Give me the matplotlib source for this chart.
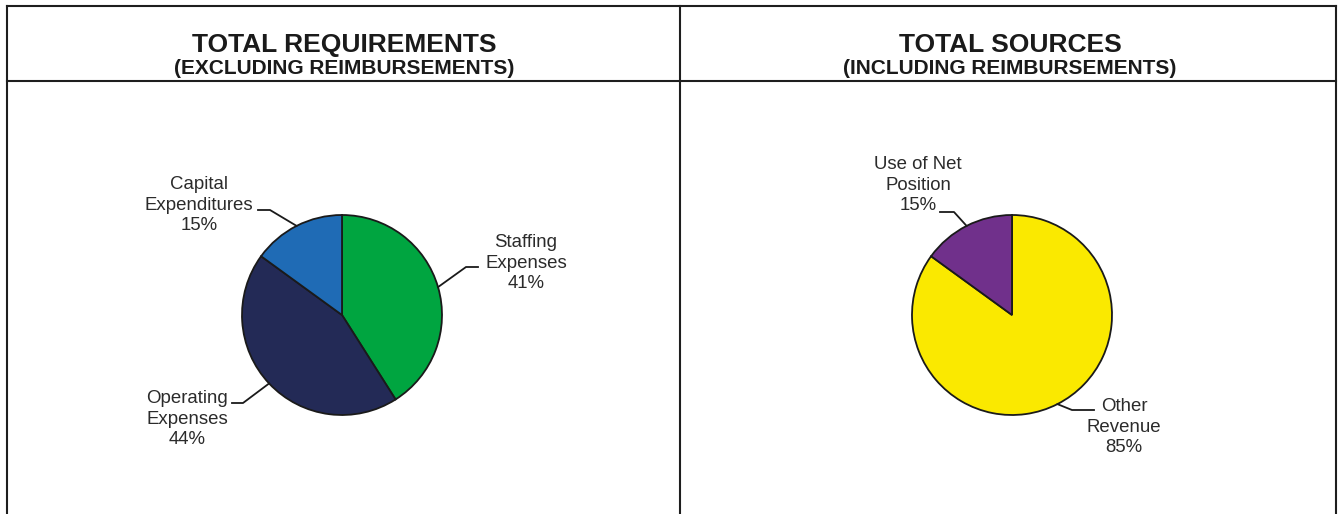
import numpy as np
import matplotlib
matplotlib.use("Agg")
import matplotlib.pyplot as plt
from matplotlib.lines import Line2D

plt.rcParams['font.family'] = ['Liberation Sans', 'DejaVu Sans']

# ---- data ----
req_labels = ["Staffing\nExpenses", "Operating\nExpenses", "Capital\nExpenditures"]
req_values = [41, 44, 15]
req_colors = ["#00A540", "#232A56", "#1F6BB5"]

src_labels = ["Other\nRevenue", "Use of Net\nPosition"]
src_values = [85, 15]
src_colors = ["#FAE900", "#70308B"]

titles = ["TOTAL REQUIREMENTS", "TOTAL SOURCES"]
subtitles = ["(EXCLUDING REIMBURSEMENTS)", "(INCLUDING REIMBURSEMENTS)"]

W, H = 1340, 514
fig = plt.figure(figsize=(W / 100, H / 100), dpi=100)

def fx(x):
    return x / W

def fy(y):
    return 1 - y / H

# ---- frame lines ----
frame_col = "#1e1e1e"
lw = 1.5
for (x0, y0, x1, y1) in [(7, 6, 1336, 6), (7, 81, 1336, 81), (7, 6, 7, 514),
                         (680, 6, 680, 514), (1336, 6, 1336, 514)]:
    fig.add_artist(Line2D([fx(x0), fx(x1)], [fy(y0), fy(y1)], color=frame_col,
                          lw=lw, transform=fig.transFigure))

# ---- titles ----
for cx, t, s in zip([344, 1010], titles, subtitles):
    fig.text(fx(cx), fy(45), t, ha="center", va="center", fontsize=19,
             fontweight="bold", color="#1a1a1a")
    fig.text(fx(cx), fy(68), s, ha="center", va="center", fontsize=15,
             fontweight="bold", color="#1a1a1a")

text_col = "#2b2b2b"

def draw_pie(center, radius, values, colors, labels, label_layout):
    cx, cy = center
    ax = fig.add_axes([fx(cx - radius), fy(cy + radius), 2 * radius / W, 2 * radius / H])
    wedges, _ = ax.pie(values, colors=colors, startangle=90, counterclock=False,
                       wedgeprops=dict(edgecolor="#1a1a1a", linewidth=1.3))
    ax.set_xlim(-1, 1)
    ax.set_ylim(-1, 1)
    ax.set_aspect("equal")
    ax.axis("off")
    total = sum(values)
    for w, lab, v, (elbow, end, txt) in zip(wedges, labels, values, label_layout):
        ang = np.deg2rad((w.theta1 + w.theta2) / 2)
        ex = cx + radius * np.cos(ang)
        ey = cy - radius * np.sin(ang)
        xs = [fx(ex), fx(elbow[0]), fx(end[0])]
        ys = [fy(ey), fy(elbow[1]), fy(end[1])]
        fig.add_artist(Line2D(xs, ys, color="#1a1a1a", lw=1.3,
                              transform=fig.transFigure))
        pct = round(100 * v / total)
        fig.text(fx(txt[0]), fy(txt[1]), f"{lab}\n{pct}%", ha="center",
                 va="center", fontsize=13.4, color=text_col, linespacing=1.27)

# layout: (elbow point, line end, text center) in pixels
req_layout = [((466, 267), (478, 267), (526, 263)),
              ((243, 403), (232, 403), (187, 419)),
              ((270, 210), (258, 210), (199, 205))]
src_layout = [((1072, 410), (1094, 410), (1124, 427)),
              ((954, 212), (940, 212), (918, 185))]

draw_pie((342, 315), 100, req_values, req_colors, req_labels, req_layout)
draw_pie((1012, 315), 100, src_values, src_colors, src_labels, src_layout)

fig.savefig("out.png", dpi=100)
